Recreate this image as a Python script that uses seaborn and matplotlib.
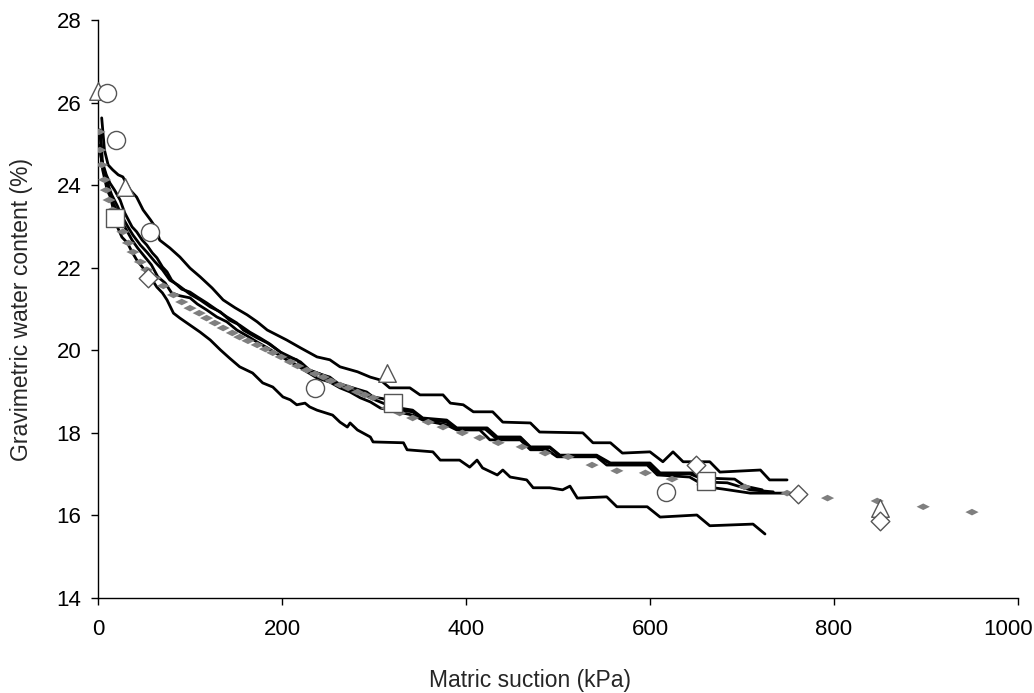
import seaborn as sns
import matplotlib.pyplot as plt
import matplotlib.transforms as mtransforms

# measured curves (matric suction kPa, gravimetric water content %)
a_kpa = [4, 7, 11, 16, 22, 27, 35, 42, 49, 57, 63, 67, 78, 89, 100, 111, 124, 136, 149, 162,
         173, 184, 205, 220, 238, 252, 263, 282, 296, 307, 317, 339, 350, 375, 383, 397, 408, 429,
         440, 470, 480, 527, 538, 557, 570, 600, 614, 625, 636, 665, 676, 720, 730, 749]
a_w = [25.63, 24.85, 24.49, 24.37, 24.25, 24.20, 23.88, 23.71, 23.40, 23.16, 22.96, 22.67, 22.48,
       22.26, 21.99, 21.78, 21.51, 21.22, 21.03, 20.86, 20.69, 20.49, 20.25, 20.06, 19.84, 19.77,
       19.60, 19.48, 19.35, 19.28, 19.09, 19.09, 18.92, 18.92, 18.72, 18.68, 18.51, 18.51, 18.26,
       18.24, 18.02, 18.00, 17.76, 17.76, 17.51, 17.54, 17.30, 17.54, 17.30, 17.30, 17.05, 17.10,
       16.86, 16.86]

b_kpa = [2, 4, 9, 13, 18, 24, 29, 37, 42, 48, 53, 59, 64, 70, 75, 80, 86, 91, 100, 108, 118, 129,
         140, 151, 158, 173, 184, 195, 205, 216, 223, 238, 252, 260, 274, 292, 299, 317, 328, 342,
         353, 379, 390, 423, 434, 459, 470, 491, 502, 542, 557, 600, 611, 647, 658, 684, 709, 734]
b_w = [25.34, 24.61, 24.25, 24.05, 23.88, 23.64, 23.33, 22.99, 22.87, 22.67, 22.55, 22.36, 22.24,
       22.02, 21.90, 21.70, 21.58, 21.48, 21.41, 21.29, 21.15, 20.98, 20.81, 20.66, 20.49, 20.30,
       20.18, 20.01, 19.84, 19.77, 19.57, 19.45, 19.35, 19.21, 19.11, 18.99, 18.87, 18.80, 18.60,
       18.55, 18.36, 18.31, 18.12, 18.12, 17.90, 17.90, 17.66, 17.66, 17.46, 17.46, 17.27, 17.27,
       17.03, 17.03, 16.81, 16.79, 16.62, 16.57]

c_kpa = [2, 5, 10, 15, 21, 26, 32, 37, 43, 51, 58, 65, 73, 80, 89, 100, 108, 118, 129, 140, 151,
         162, 173, 184, 195, 205, 216, 227, 238, 252, 263, 274, 285, 296, 307, 342, 353, 379, 390,
         415, 426, 459, 470, 488, 499, 542, 553, 597, 608, 643, 654, 662, 679, 709, 745]
c_w = [24.97, 24.37, 23.88, 23.64, 23.35, 23.11, 22.87, 22.67, 22.48, 22.26, 22.07, 21.78, 21.63,
       21.39, 21.32, 21.27, 21.12, 20.98, 20.81, 20.69, 20.49, 20.35, 20.20, 20.06, 19.91, 19.77,
       19.64, 19.48, 19.33, 19.23, 19.09, 18.99, 18.85, 18.75, 18.60, 18.43, 18.31, 18.19, 18.07,
       18.07, 17.83, 17.83, 17.59, 17.59, 17.42, 17.42, 17.22, 17.22, 16.98, 16.93, 16.79, 16.69,
       16.64, 16.54, 16.54]

d_kpa = [3, 5, 10, 15, 21, 26, 32, 38, 46, 53, 62, 70, 78, 87, 100, 111, 122, 133, 143, 154, 165,
         176, 187, 198, 209, 220, 230, 241, 252, 263, 274, 288, 301, 312, 328, 342, 353, 379, 390,
         421, 432, 459, 470, 491, 502, 542, 557, 598, 609, 643, 654, 692, 703, 722]
d_w = [25.22, 24.49, 24.05, 23.76, 23.50, 23.25, 23.01, 22.79, 22.55, 22.38, 22.14, 21.95, 21.70,
       21.58, 21.36, 21.22, 21.05, 20.93, 20.73, 20.61, 20.44, 20.30, 20.15, 19.96, 19.84, 19.72,
       19.52, 19.43, 19.28, 19.18, 19.04, 18.94, 18.80, 18.70, 18.55, 18.51, 18.34, 18.26, 18.09,
       18.09, 17.88, 17.88, 17.64, 17.64, 17.44, 17.44, 17.25, 17.25, 17.01, 17.01, 16.91, 16.88,
       16.71, 16.62]

e_kpa = [2, 5, 10, 15, 21, 26, 32, 37, 42, 48, 53, 59, 64, 70, 75, 82, 89, 100, 111, 122, 133,
         143, 154, 168, 179, 190, 201, 209, 216, 225, 230, 238, 255, 263, 271, 274, 282, 296, 299,
         332, 336, 364, 372, 393, 404, 412, 418, 434, 440, 448, 466, 473, 491, 505, 513, 521, 553,
         564, 597, 611, 651, 665, 712, 725]
e_w = [24.85, 24.49, 24.13, 23.57, 22.99, 22.74, 22.60, 22.38, 22.19, 22.02, 21.87, 21.70, 21.53,
       21.39, 21.22, 20.90, 20.78, 20.61, 20.44, 20.25, 20.01, 19.81, 19.60, 19.45, 19.21, 19.11,
       18.87, 18.80, 18.68, 18.72, 18.63, 18.55, 18.43, 18.26, 18.14, 18.24, 18.07, 17.90, 17.78,
       17.76, 17.59, 17.54, 17.34, 17.34, 17.17, 17.34, 17.15, 16.98, 17.10, 16.93, 16.86, 16.67,
       16.67, 16.62, 16.71, 16.42, 16.45, 16.21, 16.21, 15.96, 16.01, 15.75, 15.79, 15.55]

# fitted / averaged curve (grey diamonds)
fit_kpa = [1, 2, 4, 7, 9, 12, 16, 22, 27, 33, 38, 46, 53, 62, 71, 82, 91, 100, 110, 118, 127, 136,
           146, 154, 163, 173, 182, 190, 199, 209, 217, 227, 236, 245, 253, 263, 272, 282, 290,
           299, 314, 328, 342, 359, 375, 396, 415, 435, 461, 486, 511, 537, 564, 595, 624, 657,
           703, 749, 793, 847, 897, 950]
fit_w = [25.29, 24.85, 24.49, 24.13, 23.88, 23.64, 23.40, 23.11, 22.87, 22.60, 22.38, 22.14, 21.95,
         21.75, 21.56, 21.34, 21.17, 21.02, 20.90, 20.78, 20.66, 20.54, 20.42, 20.32, 20.23, 20.13,
         20.03, 19.94, 19.84, 19.72, 19.62, 19.52, 19.43, 19.35, 19.26, 19.16, 19.09, 18.99, 18.92,
         18.85, 18.60, 18.48, 18.36, 18.26, 18.14, 18.00, 17.88, 17.76, 17.66, 17.51, 17.42, 17.22,
         17.08, 17.03, 16.88, 16.74, 16.69, 16.54, 16.42, 16.35, 16.21, 16.08]

# individual lab points
tri_kpa = [0, 29, 314, 850]
tri_w = [26.28, 23.96, 19.45, 16.18]
circ_kpa = [10, 20, 57, 236, 617]
circ_w = [26.23, 25.09, 22.87, 19.09, 16.57]
sq_kpa = [18, 321, 661]
sq_w = [23.20, 18.72, 16.84]
dia_kpa = [54, 650, 761, 850]
dia_w = [21.75, 17.22, 16.52, 15.87]

sns.set_style("ticks")
plt.rcParams["font.family"] = ["Liberation Sans", "DejaVu Sans"]

fig = plt.figure(figsize=(10.34, 6.93), dpi=100)
ax = fig.add_axes([0.0948, 0.1371, 0.8897, 0.834])

for xs, ys in [(a_kpa, a_w), (b_kpa, b_w), (c_kpa, c_w), (d_kpa, d_w), (e_kpa, e_w)]:
    sns.lineplot(x=xs, y=ys, ax=ax, sort=False, estimator=None, color="black", linewidth=2.0)

flat_diamond = [(-1, 0), (0, 0.5), (1, 0), (0, -0.5), (-1, 0)]
sns.scatterplot(x=fit_kpa, y=fit_w, ax=ax, marker=flat_diamond, s=90, color="#7f7f7f",
                edgecolor="none", zorder=3)

hollow = dict(facecolor="white", edgecolor="#555555", linewidth=1.0, zorder=4, ax=ax,
              clip_on=False)
sns.scatterplot(x=tri_kpa, y=tri_w, marker="^", s=160, **hollow)
sns.scatterplot(x=circ_kpa, y=circ_w, marker="o", s=170, **hollow)
sns.scatterplot(x=sq_kpa, y=sq_w, marker="s", s=180, **hollow)
sns.scatterplot(x=dia_kpa, y=dia_w, marker="D", s=90, **hollow)

ax.set_xlim(0, 1000)
ax.set_ylim(14, 28)
ax.set_xticks(range(0, 1001, 200))
ax.set_yticks(range(14, 29, 2))
ax.tick_params(labelsize=16, length=5, width=1, colors="black", direction="out")
ax.tick_params(axis="x", pad=10)
ax.tick_params(axis="y", pad=7)
for side in ["left", "bottom"]:
    ax.spines[side].set_color("black")
    ax.spines[side].set_linewidth(1)
sns.despine(ax=ax)
ax.set_xlabel("Matric suction (kPa)", fontsize=16.5)
ax.set_ylabel("Gravimetric water content (%)", fontsize=16.5)
ax.xaxis.set_label_coords(0.47, -0.142)
ax.yaxis.set_label_coords(-0.083, 0.5)
ax.xaxis.label.set_va("center")
ax.yaxis.label.set_va("center")

# last x tick label sits at the figure edge, nudge it left like the original
last = ax.get_xticklabels()[-1]
last.set_transform(last.get_transform() + mtransforms.ScaledTranslation(-0.1, 0, fig.dpi_scale_trans))

fig.savefig("out.png", dpi=100)
